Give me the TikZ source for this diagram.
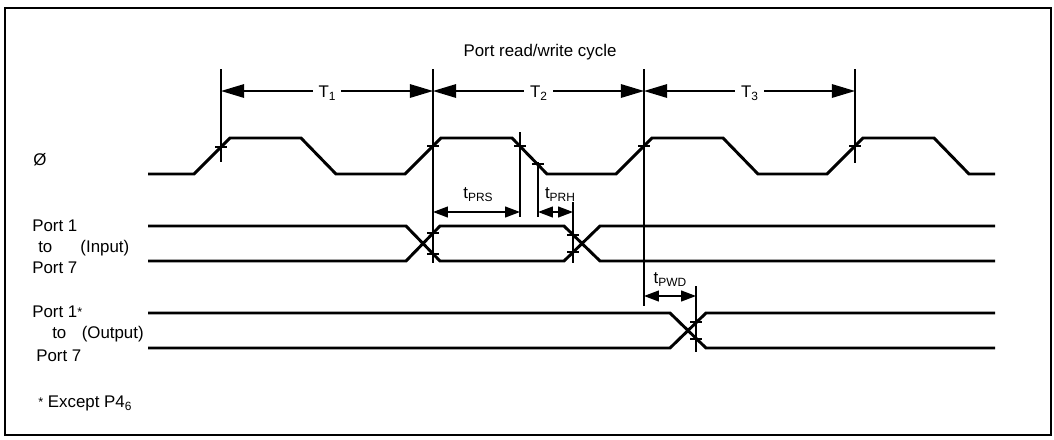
\documentclass[tikz,border=0pt]{standalone}
\usepackage{fontspec}
\setmainfont{Liberation Sans}
\usetikzlibrary{arrows.meta, positioning, calc}
\newcommand{\lowsub}[1]{\raisebox{-0.35ex}{\fontsize{8.5}{9}\selectfont #1}}
\tikzset{
  frame/.style={line width=1.4pt, draw=black},
  wave/.style={line width=2.1pt, draw=black},
  refline/.style={line width=1.3pt, draw=black},
  tickmark/.style={line width=1.3pt, draw=black},
  bigdim/.style={{Triangle[length=5.8mm, width=3.4mm]}-{Triangle[length=5.8mm, width=3.4mm]},
    line width=1pt},
  smalldim/.style={{Triangle[length=3.7mm, width=2.7mm]}-{Triangle[length=3.7mm, width=2.7mm]},
    line width=1pt},
  siglabel/.style={anchor=west, inner sep=0pt, font=\fontsize{12}{14}\selectfont,
    text height=8.6pt, text depth=0pt},
  dimlabel/.style={inner sep=0pt, font=\fontsize{12}{14}\selectfont,
    text height=8.6pt, text depth=0pt},
  cyclelabel/.style={dimlabel, fill=white, inner xsep=4pt},
}

\begin{document}
\begin{tikzpicture}[x=0.25mm, y=-0.25mm]
  \useasboundingbox (0,0) rectangle (1054,439);

  % ----------------------------------------------------------------
  % Frame and title
  % ----------------------------------------------------------------
  \draw[frame] (5,8) rectangle (1051,435);
  \node[dimlabel] (title) at (540,50) {Port read/write cycle};

  % ----------------------------------------------------------------
  % Signal names
  % ----------------------------------------------------------------
  \node[siglabel] (phi) at (33,159) {Ø};
  \node[siglabel] (in1) at (32,225) {Port 1};
  \node[siglabel] (into) at (38,246) {to\hspace{20pt}(Input)};
  \node[siglabel] (in7) at (32,267) {Port 7};
  \node[siglabel] (out1) at (32,311) {Port 1{\small\raisebox{0.1ex}{*}}};
  \node[siglabel] (outto) at (52,332) {to\hspace{11pt}(Output)};
  \node[siglabel] (out7) at (36,355) {Port 7};
  \node[siglabel] (note) at (38,401) {{\small\raisebox{0.1ex}{*}} Except P4\lowsub{6}};

  % ----------------------------------------------------------------
  % Waveforms: clock, input bus, output bus
  % ----------------------------------------------------------------
  \draw[wave] (148,174) foreach \r in {194,405,616,827} {
      -- (\r,174) -- (\r+36,138) -- (\r+107,138) -- (\r+142,174) } -- (995,174);

  \draw[wave] (148,226) -- (406,226) -- (440,261) -- (564,261) -- (600,226) -- (995,226);
  \draw[wave] (148,261) -- (406,261) -- (440,226) -- (564,226) -- (600,261) -- (995,261);

  \draw[wave] (148,313) -- (670,313) -- (706,348) -- (995,348);
  \draw[wave] (148,348) -- (670,348) -- (706,313) -- (995,313);

  % ----------------------------------------------------------------
  % Reference lines
  % ----------------------------------------------------------------
  \coordinate (s1) at (221,91);
  \coordinate (s2) at (433,91);
  \coordinate (s3) at (644,91);
  \coordinate (s4) at (855,91);
  \draw[refline] (221,69) -- (221,162);
  \draw[refline] (433,69) -- (433,263);
  \draw[refline] (644,69) -- (644,306);
  \draw[refline] (855,69) -- (855,163);
  \draw[refline] (520,132) -- (520,217);
  \draw[refline] (538,162) -- (538,217);
  \draw[refline] (573,202) -- (573,263);
  \draw[refline] (696,286) -- (696,352);

  % crossing marks
  \foreach \x/\y in {221/147, 433/146, 644/146, 855/146, 520/146, 538/164,
                     433/233, 433/254, 573/235, 573/252, 696/322, 696/339}
    \draw[tickmark] (\x-6,\y) -- (\x+6,\y);

  % ----------------------------------------------------------------
  % Cycle and timing dimensions
  % ----------------------------------------------------------------
  \draw[bigdim] (s1) -- (s2) node[cyclelabel, midway] {T\lowsub{1}};
  \draw[bigdim] (s2) -- (s3) node[cyclelabel, midway] {T\lowsub{2}};
  \draw[bigdim] (s3) -- (s4) node[cyclelabel, midway] {T\lowsub{3}};

  \coordinate (prsa) at (433,212);
  \coordinate (prsb) at (520,212);
  \coordinate (prha) at (538,212);
  \coordinate (prhb) at (573,212);
  \coordinate (pwda) at (644,296);
  \coordinate (pwdb) at (696,296);
  \draw[smalldim] (prsa) -- (prsb);
  \draw[smalldim] (prha) -- (prhb);
  \draw[smalldim] (pwda) -- (pwdb);
  \node[dimlabel] (prs) at (478,192) {t\lowsub{PRS}};
  \node[dimlabel] (prh) at (560,192) {t\lowsub{PRH}};
  \node[dimlabel] (pwd) at (670,277) {t\lowsub{PWD}};

\end{tikzpicture}
\end{document}
